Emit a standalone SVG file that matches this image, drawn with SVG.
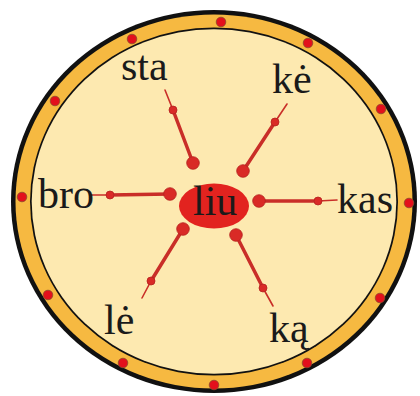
<svg xmlns="http://www.w3.org/2000/svg" width="420" height="396" viewBox="0 0 420 396">
<style>
.lbl{font-family:"Liberation Serif","Times New Roman",serif;font-size:42px;fill:#1a1a1a}
.dot{fill:#e3101c;stroke:#8c4a2c;stroke-width:0.8}
.rod{stroke:#c92e28;stroke-width:3.5;stroke-linecap:round;fill:none}
.tip{stroke:#c92e28;stroke-width:1.6;stroke-linecap:round;fill:none}
.knob{fill:#d92a26;stroke:#b52220;stroke-width:0.8}
</style>
<rect width="420" height="396" fill="#ffffff"/>
<g id="wheel">
<ellipse cx="214" cy="201.5" rx="203" ry="191.5" fill="#111"/>
<ellipse cx="214" cy="201.5" rx="198.5" ry="187" fill="#f6b941"/>
<ellipse cx="214" cy="201.5" rx="184" ry="174" fill="#111"/>
<ellipse cx="214" cy="201.5" rx="182.3" ry="172.3" fill="#fde9b0"/>
<g id="rim-dots">
<circle class="dot" cx="221" cy="22" r="4.8"/>
<circle class="dot" cx="308" cy="43" r="4.8"/>
<circle class="dot" cx="381" cy="109" r="4.8"/>
<circle class="dot" cx="409" cy="203" r="4.8"/>
<circle class="dot" cx="380" cy="298" r="4.8"/>
<circle class="dot" cx="307" cy="363" r="4.8"/>
<circle class="dot" cx="214" cy="385" r="4.8"/>
<circle class="dot" cx="123" cy="363" r="4.8"/>
<circle class="dot" cx="48" cy="295" r="4.8"/>
<circle class="dot" cx="22" cy="197" r="4.8"/>
<circle class="dot" cx="55" cy="101" r="4.8"/>
<circle class="dot" cx="132" cy="39" r="4.8"/>
</g>
</g>
<g id="connectors">
<line class="rod" x1="193" y1="163" x2="173" y2="110"/><line class="tip" x1="173" y1="110" x2="165" y2="90"/>
<circle class="knob" cx="193" cy="163" r="6.3"/><circle class="knob" cx="173" cy="110" r="4"/>
<line class="rod" x1="243" y1="171" x2="275" y2="122"/><line class="tip" x1="275" y1="122" x2="287" y2="104"/>
<circle class="knob" cx="243" cy="171" r="6.3"/><circle class="knob" cx="275" cy="122" r="4"/>
<line class="rod" x1="170" y1="194" x2="110" y2="195"/><line class="tip" x1="110" y1="195" x2="90" y2="195"/>
<circle class="knob" cx="170" cy="194" r="6.3"/><circle class="knob" cx="110" cy="195" r="4"/>
<line class="rod" x1="259" y1="201" x2="318" y2="201"/><line class="tip" x1="318" y1="201" x2="337" y2="200"/>
<circle class="knob" cx="259" cy="201" r="6.3"/><circle class="knob" cx="318" cy="201" r="4"/>
<line class="rod" x1="183" y1="229" x2="151" y2="281"/><line class="tip" x1="151" y1="281" x2="142" y2="298"/>
<circle class="knob" cx="183" cy="229" r="6.3"/><circle class="knob" cx="151" cy="281" r="4"/>
<line class="rod" x1="236" y1="235" x2="263" y2="288"/><line class="tip" x1="263" y1="288" x2="273" y2="306"/>
<circle class="knob" cx="236" cy="235" r="6.3"/><circle class="knob" cx="263" cy="288" r="4"/>
</g>
<g id="node-liu">
<ellipse cx="214" cy="206" rx="35" ry="22.5" fill="#e2231f"/>
<text class="lbl" x="193" y="215">liu</text>
</g>
<g id="node-sta"><text class="lbl" x="121" y="80">sta</text></g>
<g id="node-ke"><text class="lbl" x="272" y="93">kė</text></g>
<g id="node-bro"><text class="lbl" x="38" y="208">bro</text></g>
<g id="node-kas"><text class="lbl" x="337" y="213">kas</text></g>
<g id="node-le"><text class="lbl" x="104" y="334">lė</text></g>
<g id="node-ka"><text class="lbl" x="269" y="342">ką</text></g>
</svg>
